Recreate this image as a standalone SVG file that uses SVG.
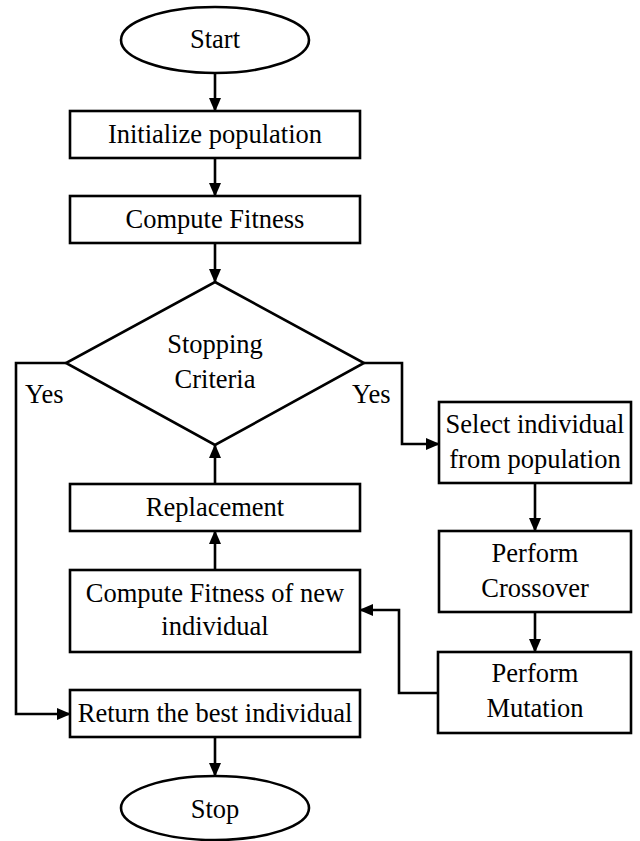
<svg xmlns="http://www.w3.org/2000/svg" width="640" height="841" viewBox="0 0 640 841">
<defs>
<marker id="ah" markerWidth="14" markerHeight="12" refX="13" refY="6" orient="auto" markerUnits="userSpaceOnUse">
<path d="M0,0 L14,6 L0,12 Z" fill="#000"/>
</marker>
<style>
.s{fill:#fff;stroke:#000;stroke-width:2.6}
.t{font-family:"Liberation Serif","Times New Roman",serif;font-size:26.5px;fill:#000;text-anchor:middle}
.y{font-family:"Liberation Serif","Times New Roman",serif;font-size:26.5px;fill:#000}
.c{fill:none;stroke:#000;stroke-width:2.6}
</style>
</defs>
<rect width="640" height="841" fill="#fff"/>
<g id="connectors">
<path class="c" d="M215,73 V111" marker-end="url(#ah)"/>
<path class="c" d="M215,158 V196" marker-end="url(#ah)"/>
<path class="c" d="M215,243 V282" marker-end="url(#ah)"/>
<path class="c" d="M66,363 H16 V714 H70" marker-end="url(#ah)"/>
<path class="c" d="M364,363 H402 V444 H439" marker-end="url(#ah)"/>
<path class="c" d="M535,483 V531" marker-end="url(#ah)"/>
<path class="c" d="M535,612 V652" marker-end="url(#ah)"/>
<path class="c" d="M438,693 H399 V610 H360" marker-end="url(#ah)"/>
<path class="c" d="M215,570 V531" marker-end="url(#ah)"/>
<path class="c" d="M215,484 V445" marker-end="url(#ah)"/>
<path class="c" d="M215,737 V776" marker-end="url(#ah)"/>
<text class="y" x="25" y="403">Yes</text>
<text class="y" x="352" y="403">Yes</text>
</g>
<g id="start"><ellipse class="s" cx="215" cy="40" rx="94" ry="33"/><text class="t" x="215" y="48">Start</text></g>
<g id="init"><rect class="s" x="70" y="111" width="290" height="47"/><text class="t" x="215" y="143">Initialize population</text></g>
<g id="fitness"><rect class="s" x="70" y="196" width="290" height="47"/><text class="t" x="215" y="228">Compute Fitness</text></g>
<g id="criteria"><path class="s" d="M215,282 L364,363 L215,445 L66,363 Z"/><text class="t" x="215" y="353">Stopping</text><text class="t" x="215" y="388">Criteria</text></g>
<g id="select"><rect class="s" x="439" y="402" width="192" height="81"/><text class="t" x="535" y="433">Select individual</text><text class="t" x="535" y="468">from population</text></g>
<g id="replacement"><rect class="s" x="70" y="484" width="290" height="47"/><text class="t" x="215" y="516">Replacement</text></g>
<g id="crossover"><rect class="s" x="439" y="531" width="192" height="81"/><text class="t" x="535" y="562">Perform</text><text class="t" x="535" y="597">Crossover</text></g>
<g id="newfitness"><rect class="s" x="70" y="570" width="290" height="82"/><text class="t" x="215" y="602">Compute Fitness of new</text><text class="t" x="215" y="635">individual</text></g>
<g id="mutation"><rect class="s" x="438" y="652" width="193" height="81"/><text class="t" x="535" y="682">Perform</text><text class="t" x="535" y="717">Mutation</text></g>
<g id="return"><rect class="s" x="70" y="690" width="290" height="47"/><text class="t" x="215" y="722">Return the best individual</text></g>
<g id="stop"><ellipse class="s" cx="215" cy="808" rx="94" ry="32"/><text class="t" x="215" y="818">Stop</text></g>
</svg>
